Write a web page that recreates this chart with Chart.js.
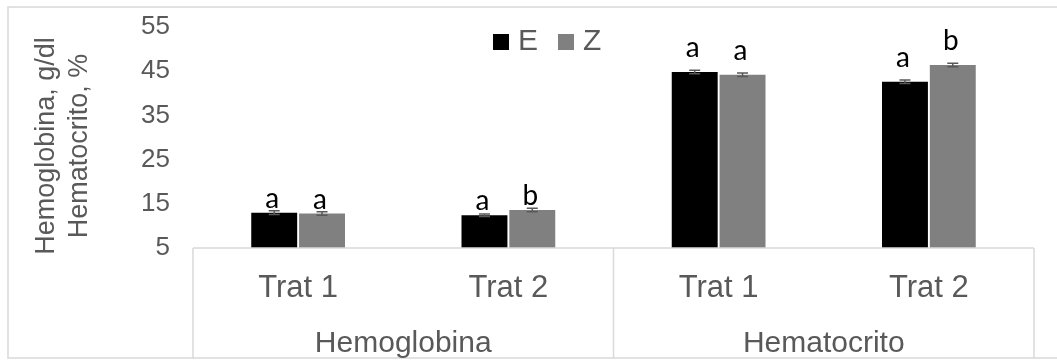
<!DOCTYPE html>
<html>
<head>
<meta charset="utf-8">
<script src="https://cdn.jsdelivr.net/npm/chart.js@4.4.1/dist/chart.umd.min.js"></script>
<style>
  html, body { margin: 0; padding: 0; background: #ffffff; }
  #wrap { width: 1057px; height: 362px; }
</style>
</head>
<body>
<div id="wrap"><canvas id="c" width="1057" height="362"></canvas></div>
<script>
// ---- data ----
const categories = ["Trat 1", "Trat 2", "Trat 1", "Trat 2"];
const groups = ["Hemoglobina", "Hematocrito"];
const seriesNames = ["E", "Z"];
const valuesE = [13.0, 12.4, 44.8, 42.6];
const valuesZ = [12.8, 13.6, 44.2, 46.4];
const errE = [0.4, 0.3, 0.4, 0.4];
const errZ = [0.4, 0.4, 0.4, 0.4];
const lettersE = ["a", "a", "a", "a"];
const lettersZ = ["a", "b", "a", "b"];
const yTicks = [5, 15, 25, 35, 45, 55];
const yTitle = ["Hemoglobina, g/dl", "Hematocrito, %"];

const FONT = "'Liberation Sans', Arial, sans-serif";
const TXT = "#595959";
const LINE = "#d9d9d9";
const errs = [errE, errZ];
const letters = [lettersE, lettersZ];

const decorPlugin = {
  id: 'decor',
  beforeDraw(chart) {
    const ctx = chart.ctx;
    ctx.save();
    ctx.fillStyle = '#ffffff';
    ctx.fillRect(0, 0, chart.width, chart.height);
    ctx.restore();
  },
  afterDraw(chart) {
    const ctx = chart.ctx;
    const ca = chart.chartArea;
    const xs = chart.scales.x;
    ctx.save();
    // outer border
    ctx.strokeStyle = LINE;
    ctx.lineWidth = 1.5;
    ctx.strokeRect(8, 7, 1060, 351);
    // category box
    const mid = (xs.getPixelForTick(1) + xs.getPixelForTick(2)) / 2;
    ctx.beginPath();
    ctx.moveTo(ca.left, ca.bottom); ctx.lineTo(ca.right, ca.bottom);
    [ca.left, mid, ca.right].forEach(x => {
      ctx.moveTo(x, ca.bottom); ctx.lineTo(x, 358);
    });
    ctx.stroke();
    // group labels
    ctx.fillStyle = TXT;
    ctx.font = "30px " + FONT;
    ctx.textAlign = 'center';
    ctx.textBaseline = 'alphabetic';
    ctx.fillText(groups[0], (ca.left + mid) / 2, 352);
    ctx.fillText(groups[1], (mid + ca.right) / 2, 352);
    // y axis title (rotated, two lines)
    ctx.save();
    ctx.translate(0, 146);
    ctx.rotate(-Math.PI / 2);
    ctx.font = "27px " + FONT;
    ctx.textBaseline = 'middle';
    ctx.textAlign = 'center';
    ctx.fillText(yTitle[0], 0, 47);
    ctx.fillText(yTitle[1], 0, 80);
    ctx.restore();
    // legend
    ctx.font = "30px " + FONT;
    ctx.textAlign = 'left';
    ctx.textBaseline = 'middle';
    let lx = 493;
    chart.data.datasets.forEach((ds, i) => {
      ctx.fillStyle = ds.backgroundColor;
      ctx.fillRect(lx, 34, 16, 16);
      ctx.fillStyle = TXT;
      ctx.fillText(ds.label, lx + 25, 42);
      lx += 65;
    });
    ctx.restore();
  },
  afterDatasetsDraw(chart) {
    const ctx = chart.ctx;
    const ys = chart.scales.y;
    ctx.save();
    chart.data.datasets.forEach((ds, di) => {
      const meta = chart.getDatasetMeta(di);
      meta.data.forEach((bar, i) => {
        const v = ds.data[i];
        const e = errs[di][i];
        const x = bar.x;
        const y1 = ys.getPixelForValue(v + e);
        const y2 = ys.getPixelForValue(v - e);
        ctx.strokeStyle = '#595959';
        ctx.lineWidth = 1.5;
        ctx.beginPath();
        ctx.moveTo(x, y1); ctx.lineTo(x, y2);
        ctx.moveTo(x - 5.5, y1); ctx.lineTo(x + 5.5, y1);
        ctx.moveTo(x - 5.5, y2); ctx.lineTo(x + 5.5, y2);
        ctx.stroke();
        // significance letters
        ctx.fillStyle = '#000000';
        ctx.font = "28px Lato, 'Open Sans', sans-serif";
        ctx.textAlign = 'center';
        ctx.textBaseline = 'alphabetic';
        const off = i < 2 ? 5 : 15;
        ctx.fillText(letters[di][i], x - 2, ys.getPixelForValue(v) - off);
      });
    });
    ctx.restore();
  }
};

new Chart(document.getElementById('c'), {
  type: 'bar',
  data: {
    labels: categories,
    datasets: [
      { label: seriesNames[0], data: valuesE, backgroundColor: '#000000', borderWidth: 0,
        categoryPercentage: 0.455, barPercentage: 0.96 },
      { label: seriesNames[1], data: valuesZ, backgroundColor: '#808080', borderWidth: 0,
        categoryPercentage: 0.455, barPercentage: 0.96 }
    ]
  },
  plugins: [decorPlugin],
  options: {
    responsive: false,
    animation: false,
    devicePixelRatio: 1,
    layout: { padding: { left: 0, top: 27, right: 23, bottom: 0 } },
    plugins: { legend: { display: false }, tooltip: { enabled: false } },
    scales: {
      x: {
        grid: { display: false, drawTicks: false },
        border: { display: false },
        ticks: {
          color: TXT, font: { family: FONT, size: 31 },
          maxRotation: 0, minRotation: 0, autoSkip: false, padding: 22
        },
        afterFit(s) { s.height = 114; s.paddingLeft = 0; s.paddingRight = 0; }
      },
      y: {
        min: 5, max: 55,
        afterBuildTicks(s) { s.ticks = yTicks.map(v => ({ value: v })); },
        grid: { display: false, drawTicks: false },
        border: { display: false },
        ticks: { color: TXT, font: { family: FONT, size: 26 }, padding: 23 },
        afterFit(s) { s.width = 193; s.paddingTop = 0; s.paddingBottom = 0; }
      }
    }
  }
});
</script>
</body>
</html>
